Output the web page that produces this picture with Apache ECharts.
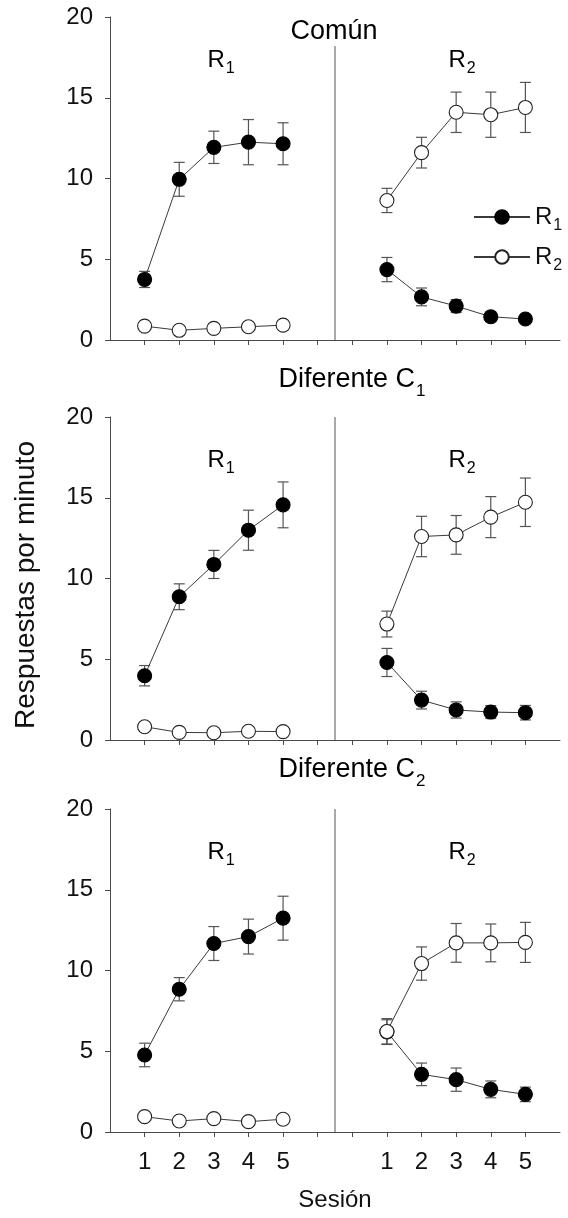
<!DOCTYPE html>
<html><head><meta charset="utf-8">
<script src="https://cdn.jsdelivr.net/npm/echarts@6/dist/echarts.min.js"></script>
<style>html,body{margin:0;padding:0;background:#fff}#c{width:568px;height:1218px}</style>
</head><body><div id="c"></div>
<script>
// ---------------- data ----------------
const sessions = [1, 2, 3, 4, 5];
const yTicks = [0, 5, 10, 15, 20];

// Panel "Común"
const comun_R1block_R1 = [3.75, 9.95, 11.93, 12.25, 12.15];
const comun_R1block_R1_err = [0.5, 1.05, 1.0, 1.4, 1.3];
const comun_R1block_R2 = [0.86, 0.6, 0.72, 0.82, 0.92];
const comun_R1block_R2_err = [0.15, 0.15, 0.15, 0.15, 0.15];
const comun_R2block_R1 = [4.36, 2.67, 2.1, 1.44, 1.3];
const comun_R2block_R1_err = [0.75, 0.55, 0.4, 0.3, 0.2];
const comun_R2block_R2 = [8.64, 11.6, 14.1, 13.95, 14.4];
const comun_R2block_R2_err = [0.75, 0.95, 1.25, 1.4, 1.55];

// Panel "Diferente C1"
const difC1_R1block_R1 = [3.98, 8.87, 10.87, 12.99, 14.56];
const difC1_R1block_R1_err = [0.63, 0.8, 0.87, 1.24, 1.42];
const difC1_R1block_R2 = [0.82, 0.47, 0.45, 0.54, 0.52];
const difC1_R1block_R2_err = [0.15, 0.15, 0.15, 0.15, 0.15];
const difC1_R2block_R1 = [4.8, 2.47, 1.86, 1.73, 1.69];
const difC1_R2block_R1_err = [0.87, 0.55, 0.5, 0.4, 0.45];
const difC1_R2block_R2 = [7.18, 12.6, 12.7, 13.8, 14.72];
const difC1_R2block_R2_err = [0.8, 1.25, 1.2, 1.27, 1.5];

// Panel "Diferente C2"
const difC2_R1block_R1 = [4.77, 8.84, 11.67, 12.1, 13.24];
const difC2_R1block_R1_err = [0.73, 0.72, 1.05, 1.08, 1.36];
const difC2_R1block_R2 = [0.95, 0.68, 0.83, 0.64, 0.79];
const difC2_R1block_R2_err = [0.15, 0.15, 0.15, 0.15, 0.15];
const difC2_R2block_R1 = [6.2, 3.57, 3.24, 2.64, 2.33];
const difC2_R2block_R1_err = [0.75, 0.7, 0.72, 0.52, 0.45];
const difC2_R2block_R2 = [6.22, 10.43, 11.71, 11.71, 11.74];
const difC2_R2block_R2_err = [0.8, 1.03, 1.2, 1.17, 1.24];

const panelTitleMain = ['Común', 'Diferente C', 'Diferente C'];
const panelTitleSub = ['', '1', '2'];
const blockLabels = ['R', 'R'];
const blockLabelSubs = ['1', '2'];
const seriesNames = ['R1', 'R2'];
const yAxisName = 'Respuestas por minuto';
const xAxisName = 'Sesión';

// ---------------- layout ----------------
const FONT = "'Liberation Sans', Arial, Helvetica, sans-serif";
const gridTops = [17, 417, 809];
const gridH = 323;
const gridLeft = 110, gridRight = 8;
const blockGap = 7;            // R2 block starts 7 positions after R1 block
const dividerPos = 6.5;
const xMin = 0, xMax = 13;
const dividerTop = [18.2, 20, 20];

const panels = [
  [comun_R1block_R1, comun_R1block_R1_err, comun_R1block_R2, comun_R1block_R2_err,
   comun_R2block_R1, comun_R2block_R1_err, comun_R2block_R2, comun_R2block_R2_err],
  [difC1_R1block_R1, difC1_R1block_R1_err, difC1_R1block_R2, difC1_R1block_R2_err,
   difC1_R2block_R1, difC1_R2block_R1_err, difC1_R2block_R2, difC1_R2block_R2_err],
  [difC2_R1block_R1, difC2_R1block_R1_err, difC2_R1block_R2, difC2_R1block_R2_err,
   difC2_R2block_R1, difC2_R2block_R1_err, difC2_R2block_R2, difC2_R2block_R2_err]
];

const xsA = sessions.slice();
const xsB = sessions.map(s => s + blockGap);
const tickPositions = [];
for (let i = 1; i < xMax; i++) tickPositions.push(i);
const labelPositions = xsA.concat(xsB);

const AXIS_COLOR = '#4a4a4a';
const LINE_COLOR = '#3a3a3a';
const ERR_COLOR = '#555';

const grids = [], xAxes = [], yAxes = [], series = [];

function lineSeries(name, gi, xs, ys, filled) {
  return {
    type: 'line', name: name, xAxisIndex: gi, yAxisIndex: gi,
    data: xs.map((x, i) => [x, ys[i]]),
    symbol: 'circle', symbolSize: 14,
    lineStyle: { color: LINE_COLOR, width: 1 },
    itemStyle: { color: filled ? '#000' : '#fff', borderColor: filled ? '#000' : '#222', borderWidth: 1.1 },
    z: filled ? 3 : 4, animation: false, silent: true,
    emphasis: { disabled: true }
  };
}
function errSeries(gi, xs, ys, errs) {
  return {
    type: 'custom', xAxisIndex: gi, yAxisIndex: gi,
    data: xs.map((x, i) => [x, ys[i] - errs[i], ys[i] + errs[i]]),
    encode: { x: 0, y: [1, 2] },
    renderItem: function (params, api) {
      const x = api.value(0);
      const lo = api.coord([x, api.value(1)]);
      const hi = api.coord([x, api.value(2)]);
      const hw = 5.5;
      const st = { stroke: ERR_COLOR, lineWidth: 1.2 };
      return { type: 'group', children: [
        { type: 'line', shape: { x1: lo[0], y1: lo[1], x2: hi[0], y2: hi[1] }, style: st },
        { type: 'line', shape: { x1: lo[0] - hw, y1: lo[1], x2: lo[0] + hw, y2: lo[1] }, style: st },
        { type: 'line', shape: { x1: hi[0] - hw, y1: hi[1], x2: hi[0] + hw, y2: hi[1] }, style: st }
      ]};
    },
    z: 2, silent: true, animation: false
  };
}

panels.forEach((p, gi) => {
  grids.push({ left: gridLeft, right: gridRight, top: gridTops[gi], height: gridH, containLabel: false });
  const isLast = gi === panels.length - 1;
  xAxes.push({
    type: 'value', gridIndex: gi, min: xMin, max: xMax, interval: 1,
    splitLine: { show: false },
    axisLine: { lineStyle: { color: AXIS_COLOR, width: 1 } },
    axisTick: { show: true, length: 5, customValues: tickPositions, lineStyle: { color: AXIS_COLOR } },
    axisLabel: isLast ? {
      show: true, customValues: labelPositions, margin: 18,
      formatter: v => String(v > blockGap ? v - blockGap : v),
      fontSize: 24, fontFamily: FONT, color: '#111'
    } : { show: false },
    name: isLast ? xAxisName : '', nameLocation: 'middle', nameGap: 56,
    nameTextStyle: { fontSize: 24, fontFamily: FONT, color: '#111' }
  });
  yAxes.push({
    type: 'value', gridIndex: gi, min: 0, max: 20, interval: 5,
    splitLine: { show: false },
    axisLine: { show: true, lineStyle: { color: AXIS_COLOR, width: 1 } },
    axisTick: { show: true, length: 5, lineStyle: { color: AXIS_COLOR } },
    axisLabel: { margin: 17, fontSize: 24, fontFamily: FONT, color: '#111',
                 formatter: v => yTicks.indexOf(v) >= 0 ? String(v) : '' }
  });
  // divider
  series.push({
    type: 'line', xAxisIndex: gi, yAxisIndex: gi,
    data: [[dividerPos, 0], [dividerPos, dividerTop[gi]]],
    symbol: 'none', lineStyle: { color: '#555', width: 1 }, z: 1, silent: true, animation: false
  });
  // error bars
  series.push(errSeries(gi, xsA, p[0], p[1]));
  series.push(errSeries(gi, xsA, p[2], p[3]));
  series.push(errSeries(gi, xsB, p[4], p[5]));
  series.push(errSeries(gi, xsB, p[6], p[7]));
  // lines with markers
  series.push(lineSeries(seriesNames[0], gi, xsA, p[0], true));
  series.push(lineSeries(seriesNames[0], gi, xsB, p[4], true));
  series.push(lineSeries(seriesNames[1], gi, xsA, p[2], false));
  series.push(lineSeries(seriesNames[1], gi, xsB, p[6], false));
});

function richStyle(size, subSize, drop) {
  return {
    a: { fontSize: size, fontFamily: FONT, color: '#111', lineHeight: size, verticalAlign: 'top' },
    s: { fontSize: subSize, fontFamily: FONT, color: '#111', lineHeight: subSize, padding: [drop, 0, 0, 1], verticalAlign: 'top' }
  };
}
const richLabel = richStyle(24, 16, 13);
const richTitle = richStyle(27, 17, 16);

function subText(main, sub, x, y, rich) {
  return {
    type: 'text', x: x, y: y, silent: true,
    style: {
      text: sub ? '{a|' + main + '}{s|' + sub + '}' : '{a|' + main + '}',
      rich: rich, align: 'center', verticalAlign: 'middle',
      textAlign: 'center', textVerticalAlign: 'middle'
    }
  };
}

const graphics = [];
// panel titles
graphics.push(subText(panelTitleMain[0], panelTitleSub[0], 334, 32, richTitle));
graphics.push(subText(panelTitleMain[1], panelTitleSub[1], 352, 380, richTitle));
graphics.push(subText(panelTitleMain[2], panelTitleSub[2], 352, 770, richTitle));
// block labels
const blockLabelY = [60, 460, 852];
blockLabelY.forEach(y => {
  graphics.push(subText(blockLabels[0], blockLabelSubs[0], 221, y, richLabel));
  graphics.push(subText(blockLabels[1], blockLabelSubs[1], 462, y, richLabel));
});
// y axis name
graphics.push({
  type: 'text', x: 26, y: 585, rotation: Math.PI / 2, silent: true,
  style: { text: yAxisName, font: '28px ' + FONT, fill: '#111',
           align: 'center', verticalAlign: 'middle', textAlign: 'center', textVerticalAlign: 'middle' }
});

const chart = echarts.init(document.getElementById('c'), null, { renderer: 'canvas' });
chart.setOption({
  animation: false,
  backgroundColor: '#fff',
  grid: grids, xAxis: xAxes, yAxis: yAxes, series: series,
  legend: {
    data: seriesNames, orient: 'vertical', left: 468, top: 200,
    itemWidth: 56, itemHeight: 17, itemGap: 11, selectedMode: false,
    formatter: n => '{a|' + n.charAt(0) + '}{s|' + n.slice(1) + '}',
    textStyle: { rich: richLabel }
  },
  graphic: graphics
});
</script>
</body></html>
